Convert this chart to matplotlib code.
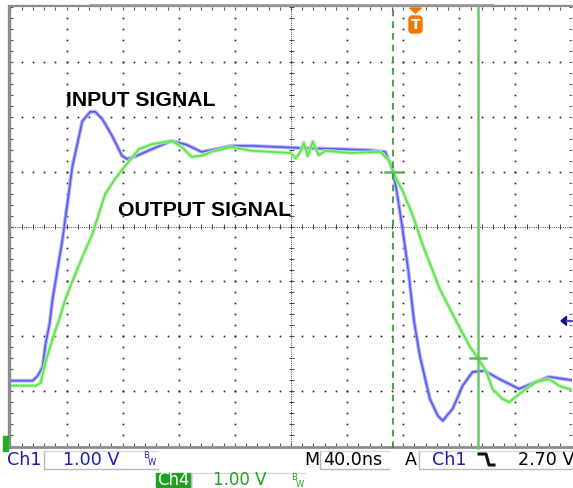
import numpy as np
import matplotlib
matplotlib.use('Agg')
import matplotlib.pyplot as plt
from matplotlib.patches import Rectangle, Polygon, FancyBboxPatch
from matplotlib.lines import Line2D
from matplotlib.transforms import IdentityTransform

# ---------------- data (time in ns relative to trigger, volts) ----------------
t_ch1 = [-290, -271.9, -268.3, -264.8, -262.7, -259.8, -257.7, -250.6, -243.6, -236.5,
         -230.8, -227.3, -222.3, -215.2, -208.2, -204.6, -197.5, -186.9, -172.8, -162.1,
         -151.5, -140.9, -130.3, -116.1, -80.7, -52.4, -31.2, -20.5, -14.9, -12.0,
         -8.5, -4.2, 0.0, 4.2, 11.3, 17.0, 20.5, 27.6, 34.7, 41.8,
         50.3, 60.9, 75.0, 87.1, 96.3, 115.0]
v_ch1 = [1.61, 1.61, 1.70, 1.86, 2.28, 2.65, 3.10, 4.19, 5.51, 6.34,
         6.51, 6.51, 6.38, 6.07, 5.71, 5.65, 5.71, 5.83, 5.98, 5.91,
         5.78, 5.83, 5.89, 5.89, 5.85, 5.83, 5.81, 5.78, 5.43, 5.01,
         4.43, 3.65, 2.70, 2.06, 1.28, 0.97, 0.88, 1.10, 1.52, 1.77,
         1.79, 1.64, 1.46, 1.59, 1.68, 1.61]

t_ch4 = [-290, -269.7, -266.2, -262.7, -257.7, -252.8, -248.5, -240.0, -229.4, -220.2,
         -213.1, -206.0, -196.1, -186.9, -172.8, -165.7, -158.6, -151.5, -144.4, -130.3,
         -116.1, -87.8, -84.3, -80.7, -78.6, -75.8, -72.2, -68.0, -63.0, -45.3,
         -24.1, -17.0, -14.9, -7.8, -0.7, 6.4, 18.4, 30.4, 39.6, 45.3,
         51.7, 55.9, 63.0, 68.0, 77.2, 87.1, 96.3, 103.4, 115.0]
v_ch4 = [1.52, 1.52, 1.57, 1.95, 2.37, 2.74, 3.10, 3.65, 4.28, 5.01,
         5.29, 5.52, 5.83, 5.92, 5.98, 5.87, 5.69, 5.71, 5.78, 5.87,
         5.80, 5.76, 5.66, 5.80, 5.95, 5.70, 5.97, 5.72, 5.80, 5.76,
         5.78, 5.60, 5.41, 5.05, 4.61, 4.07, 3.28, 2.68, 2.24, 2.03,
         1.77, 1.46, 1.28, 1.22, 1.41, 1.59, 1.64, 1.52, 1.42]

cursor_a_t, cursor_a_v = -14.9, 5.41
cursor_b_t, cursor_b_v = 45.3, 2.03
trigger_t, trigger_level = 0.0, 2.70
label_input = "INPUT SIGNAL"
label_output = "OUTPUT SIGNAL"
ch1_scale = "1.00 V"
ch4_scale = "1.00 V"
timebase = "40.0ns"
trig_text = "2.70 V"

# ---------------- figure / screen ----------------
W, H = 573, 489
fig = plt.figure(figsize=(W / 100, H / 100), dpi=100)
fig.patch.set_facecolor('white')
L, R, T, B = 10.5, 571.5, 8, 447
ax = fig.add_axes([L / W, 1 - B / H, (R - L) / W, (B - T) / H])
X0, X1 = -287.7, 112.3
Y0, Y1 = 0.42, 8.42
ax.set_xlim(X0, X1)
ax.set_ylim(Y0, Y1)
ax.axis('off')
px = (X1 - X0) / (R - L)   # data x per pixel
py = (Y1 - Y0) / (B - T)   # data y per pixel

xd = np.linspace(X0, X1, 11)
yd = np.linspace(Y0, Y1, 9)
xm = np.linspace(X0, X1, 51)
ym = np.linspace(Y0, Y1, 41)

dot = dict(ls='none', marker='s', ms=1.2, mew=0, color='#222222')
for k in range(1, 10):
    if k == 5:
        continue
    ax.plot(np.full(len(ym) - 2, xd[k]), ym[1:-1], **dot)
for k in range(1, 8):
    if k == 4:
        continue
    ax.plot(xm[1:-1], np.full(len(xm) - 2, yd[k]), **dot)

# center crosshair
ax.plot([X0, X1], [yd[4]] * 2, color='#444444', lw=0.7, ls=(0, (1, 1.3)))
ax.plot([xd[5]] * 2, [Y0, Y1], color='#444444', lw=0.7, ls=(0, (1, 1.3)))
ax.vlines(xm, yd[4] - 2.5 * py, yd[4] + 2.5 * py, color='#444444', lw=0.7)
ax.hlines(ym, xd[5] - 2.5 * px, xd[5] + 2.5 * px, color='#444444', lw=0.7)

# borders
bc = '#8c8c8c'
ax.plot([X0 - 1.5 * px] * 2, [Y0 - 2 * py, Y1 + 2 * py], color=bc, lw=2.4, clip_on=False, solid_capstyle='butt')
ax.plot([X0 - 2.5 * px, X1 + 3 * px], [Y1 + 1 * py] * 2, color=bc, lw=1.6, clip_on=False, solid_capstyle='butt')
ax.plot([X0 - 2.5 * px, X1 + 3 * px], [Y0 - 1 * py] * 2, color=bc, lw=2.0, clip_on=False, solid_capstyle='butt')
ax.plot([X0 + 80 * px, X0 + 483 * px], [Y1 + 2.2 * py] * 2, color='#a0a0a0', lw=1.4, clip_on=False, solid_capstyle='butt')
tk = '#555555'
ax.vlines(xm, Y1 - 3 * py, Y1, color=tk, lw=0.8)
ax.vlines(xm, Y0, Y0 + 3 * py, color=tk, lw=0.8)
ax.hlines(ym, X0, X0 + 3 * px, color=tk, lw=0.8)
ax.hlines(ym, X1 - 3 * px, X1, color=tk, lw=0.8)

# traces
ax.plot(t_ch1, v_ch1, color='#a8a8ff', lw=2.8, alpha=0.85, solid_joinstyle='round')
ax.plot(t_ch1, v_ch1, color='#5a5af0', lw=1.2, solid_joinstyle='round')
ax.plot(t_ch4, v_ch4, color='#a8f59c', lw=2.8, alpha=0.85, solid_joinstyle='round')
ax.plot(t_ch4, v_ch4, color='#5ee24a', lw=1.2, solid_joinstyle='round')

# cursors
ax.plot([cursor_a_t] * 2, [Y0 - 2 * py, Y1], color='#2e8f2e', lw=1.2, ls=(0, (4, 3)), clip_on=False)
ax.plot([cursor_b_t] * 2, [Y0 - 2 * py, Y1], color='#6cc46c', lw=1.8, clip_on=False)
ax.plot([cursor_a_t - 8 * px, cursor_a_t + 9 * px], [cursor_a_v] * 2, color='#5cb85c', lw=1.8)
ax.plot([cursor_b_t - 8 * px, cursor_b_t + 8 * px], [cursor_b_v] * 2, color='#5cb85c', lw=1.8)

# trigger level arrow (right edge)
ax.add_patch(Polygon([[X1 - 10.5 * px, trigger_level], [X1 - 5 * px, trigger_level + 4.5 * py],
                      [X1 - 5 * px, trigger_level - 4.5 * py]], closed=True, color='#12128c', clip_on=False))
ax.plot([X1 - 5 * px, X1 + 2 * px], [trigger_level] * 2, color='#4b4bc0', lw=1.6, clip_on=False)

# labels
ax.text(-248, 6.63, label_input, fontsize=15.3, fontweight='bold', family='Liberation Sans',
        color='black', va='baseline', ha='left')
ax.text(-211, 4.63, label_output, fontsize=15.3, fontweight='bold', family='Liberation Sans',
        color='black', va='baseline', ha='left')

# trigger "T" marker at top
fig.canvas.draw()
tx = ax.transData.transform((trigger_t, Y1))[0] + 1.5
orange = '#f07a00'
fig.add_artist(Polygon([[tx - 6, H - 9], [tx + 6, H - 9], [tx, H - 14]], closed=True,
                       color=orange, transform=IdentityTransform()))
fig.add_artist(FancyBboxPatch((tx - 6.5, H - 34), 13, 17, boxstyle='round,pad=0,rounding_size=3',
                              color=orange, transform=IdentityTransform()))
fig.text(tx, H - 25.5, 'T', transform=IdentityTransform(), color='white', fontsize=10,
         fontweight='bold', ha='center', va='center')

# Ch4 ground marker at left
fig.add_artist(Rectangle((3, H - 452), 5, 15, color='#22aa22', transform=IdentityTransform()))

# ---------------- bottom readouts ----------------
def fx(x):
    return x / W

def fy(y):
    return 1 - y / H

blue = '#1e1eae'
green = '#1fa01f'
fnt = dict(family='DejaVu Sans', fontsize=12.6, va='center', ha='left')
fnt2 = dict(family='DejaVu Sans', fontsize=12.0, va='center', ha='left')

def box(x0, x1, y0, y1, col='#b8b8b8'):
    fig.add_artist(Line2D([fx(x0), fx(x0), fx(x1)], [fy(y0), fy(y1), fy(y1)],
                          transform=fig.transFigure, color=col, lw=1.0))
    fig.add_artist(Line2D([fx(x0), fx(x1)], [fy(y0), fy(y0)],
                          transform=fig.transFigure, color='#d8d8d8', lw=1.0))

fig.text(fx(7), fy(460), 'Ch1', color=blue, **fnt)
box(44, 158, 452, 470)
fig.text(fx(63), fy(460), ch1_scale, color=blue, **fnt)
fig.text(fx(143), fy(456), 'B', color=blue, fontsize=6, family='DejaVu Sans', va='center', ha='left')
fig.text(fx(148), fy(463), 'W', color=blue, fontsize=6, family='DejaVu Sans', va='center', ha='left')

fig.text(fx(304), fy(460), 'M', color='black', **fnt)
box(320, 389, 452, 470)
fig.text(fx(323), fy(460), timebase, color='black', **fnt)

fig.text(fx(405), fy(460), 'A', color='black', **fnt)
box(419, 575, 452, 470)
fig.text(fx(432), fy(460), 'Ch1', color=blue, **fnt)
fig.add_artist(Line2D([fx(479), fx(486), fx(489), fx(494)], [fy(455), fy(455), fy(466), fy(466)],
                      transform=fig.transFigure, color='#111111', lw=2.2))
fig.text(fx(518), fy(460), trig_text, color='black', **fnt)

fig.add_artist(Rectangle((fx(156), fy(495)), fx(35), 21 / H, color=green, transform=fig.transFigure))
fig.text(fx(157), fy(480.5), 'Ch4', color='white', **fnt2)
box(191, 305, 474, 492)
fig.text(fx(213), fy(480.5), ch4_scale, color=green, **fnt2)
fig.text(fx(291), fy(478), 'B', color=green, fontsize=6, family='DejaVu Sans', va='center', ha='left')
fig.text(fx(296), fy(485), 'W', color=green, fontsize=6, family='DejaVu Sans', va='center', ha='left')

fig.savefig('out.png', dpi=100, facecolor='white')
